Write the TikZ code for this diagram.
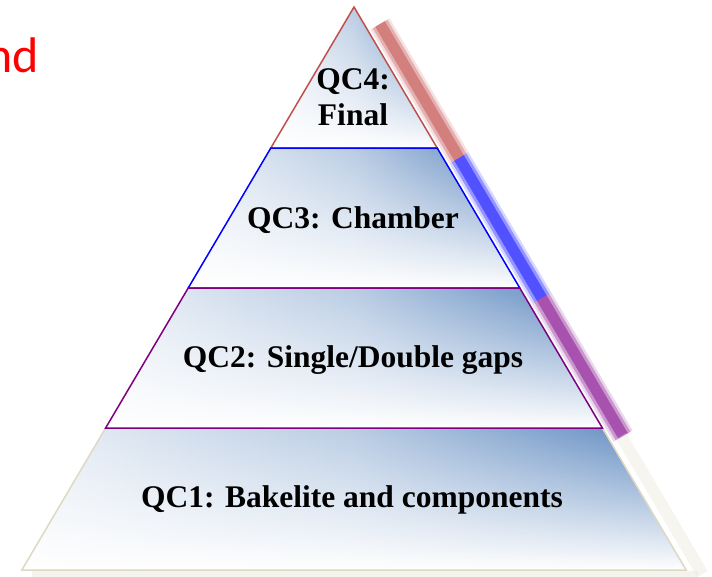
\documentclass[tikz,border=0pt]{standalone}
\usepackage{fontspec}
\setmainfont{Liberation Serif}
\newfontfamily\slidefont{Carlito}
\usetikzlibrary{fadings}
\definecolor{steel}{HTML}{5A86BE}
\definecolor{qcred}{HTML}{C0504D}
\definecolor{qcpurple}{HTML}{7F007F}
\definecolor{qcbeige}{HTML}{DDD9C3}
\definecolor{shred}{HTML}{CC6A68}
\definecolor{shblue}{HTML}{3434FF}
\definecolor{shpurple}{HTML}{9A35A2}
\definecolor{shbeige}{HTML}{E6E2D4}
\tikzfading[name=fadeup, top color=transparent!100, middle color=transparent!55, bottom color=transparent!0]
\newcommand{\lx}[1]{354-0.59*(#1-7)}
\newcommand{\rx}[1]{354+0.59*(#1-7)}
\tikzset{
  qctext/.style={font=\fontsize{31.5}{36}\selectfont\bfseries, align=center},
  levelfill/.style={left color=steel!12, right color=steel, middle color=steel!42},
}
\begin{document}
\begin{tikzpicture}[x=1pt,y=-1pt]
\useasboundingbox (0,0) rectangle (712,576);
% cut-off title
\node[anchor=base east, text=red, inner sep=0pt, font=\slidefont\fontsize{50}{50}\selectfont] (title) at (39,72) {nd};
% blurred shadows
\foreach \ya/\yb/\shd in {24/158/shred, 158/298/shblue, 298/436/shpurple} {
  \draw[\shd, line width=22, opacity=.2] ({\rx{\ya}+16},\ya) -- ({\rx{\yb}+16},\yb);
  \draw[\shd, line width=17, opacity=.4] ({\rx{\ya}+16},\ya) -- ({\rx{\yb}+16},\yb);
  \draw[\shd, line width=11, opacity=.7] ({\rx{\ya}+16},\ya) -- ({\rx{\yb}+16},\yb);
}
\draw[shbeige, line width=12, opacity=.35] ({\rx{436}+14},436) -- ({\rx{574}+14},574);
\draw[shbeige, line width=6, opacity=.4] ({\lx{570}+10},574) -- ({\rx{570}+12},574);
% levels
\foreach \ya/\yb/\col in {428/570/qcbeige, 7/148/qcred, 148/288/blue, 288/428/qcpurple} {
  \path[levelfill] ({\lx{\ya}},\ya) -- ({\rx{\ya}},\ya) -- ({\rx{\yb}},\yb) -- ({\lx{\yb}},\yb) -- cycle;
  \fill[white, path fading=fadeup] ({\lx{\ya}},\ya) -- ({\rx{\ya}},\ya) -- ({\rx{\yb}},\yb) -- ({\lx{\yb}},\yb) -- cycle;
  \draw[\col, line width=1.5] ({\lx{\ya}},\ya) -- ({\rx{\ya}},\ya) -- ({\rx{\yb}},\yb) -- ({\lx{\yb}},\yb) -- cycle;
}
\node[qctext] (qc4) at (353,97) {QC4:\\Final};
\node[qctext] (qc3) at (353,220) {QC3: Chamber};
\node[qctext] (qc2) at (353,360) {QC2: Single/Double gaps};
\node[qctext] (qc1) at (352,500) {QC1: Bakelite and components};
\end{tikzpicture}
\end{document}
